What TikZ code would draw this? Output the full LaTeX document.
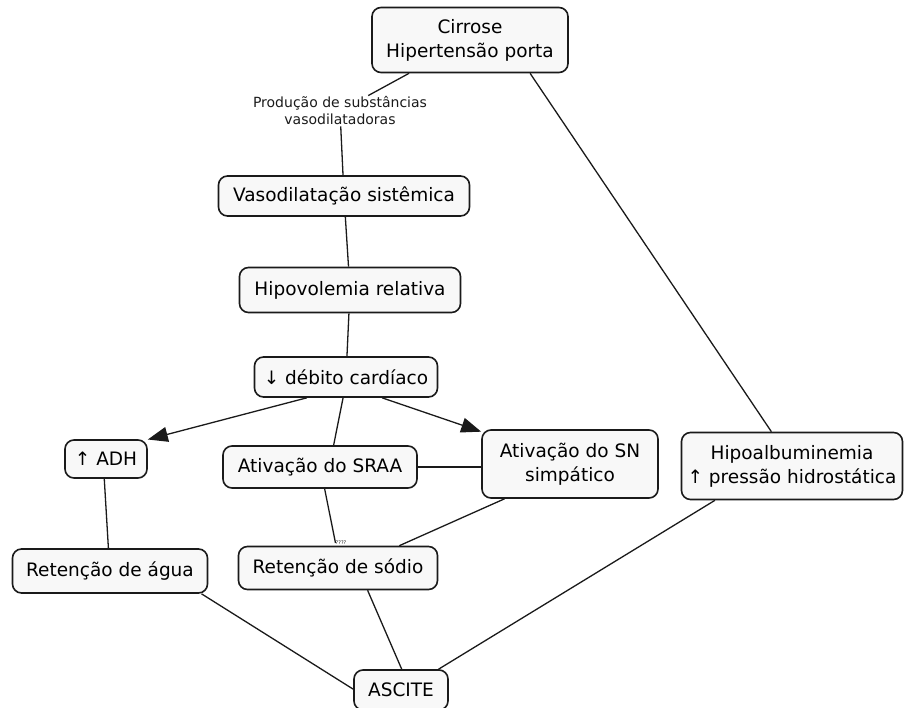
\documentclass[tikz,border=0pt]{standalone}
\usepackage{fontspec}
\setmainfont{DejaVu Sans}
\usetikzlibrary{arrows.meta}
\definecolor{boxfill}{HTML}{F8F8F8}
\definecolor{ink}{HTML}{1A1A1A}
\tikzset{
  box/.style={draw=ink, fill=boxfill, line width=1.6pt, rounded corners=9pt, align=center,
    inner sep=2pt, font=\fontsize{18.5}{24}\selectfont},
  link/.style={draw=ink, line width=1.3pt},
  arr/.style={link, -{Triangle[length=20pt,width=15pt]}},
  lab/.style={text=ink, align=center, inner sep=1pt, font=\fontsize{14}{17}\selectfont},
  labs/.style={text=ink, inner sep=0pt, font=\fontsize{5}{5}\selectfont},
}
\begin{document}
\begin{tikzpicture}[x=1pt,y=-1pt]
  \useasboundingbox (0,0) rectangle (904,708);

  % top of the map
  \node[box, minimum width=196pt, minimum height=65pt] (cirr) at (470,40) {Cirrose\\Hipertensão porta};
  \node[lab] (prod) at (340,111) {Produção de substâncias\\vasodilatadoras};
  \node[box, minimum width=251pt, minimum height=40pt] (vaso) at (344,196) {Vasodilatação sistêmica};
  \node[box, minimum width=221pt, minimum height=45pt] (hipo) at (350,290) {Hipovolemia relativa};
  \node[box, minimum width=183pt, minimum height=40pt] (deb) at (346,377) {↓ débito cardíaco};

  % middle row
  \node[box, minimum width=82pt, minimum height=38pt] (adh) at (106,459) {↑ ADH};
  \node[box, minimum width=194pt, minimum height=42pt] (sraa) at (320,467) {Ativação do SRAA};
  \node[box, minimum width=176pt, minimum height=68pt] (sns) at (570,464) {Ativação do SN\\simpático};
  \node[box, minimum width=221pt, minimum height=67pt] (halb) at (792,466) {Hipoalbuminemia\\↑ pressão hidrostática};

  % bottom
  \node[box, minimum width=195pt, minimum height=44pt] (agua) at (110,571) {Retenção de água};
  \node[box, minimum width=199pt, minimum height=43pt] (sodio) at (338,568) {Retenção de sódio};
  \node[box, minimum width=94pt, minimum height=40pt] (asc) at (401,690) {ASCITE};
  \node[labs] (qq) at (341,543) {????};

  % connectors
  \draw[link] (cirr) -- (prod);
  \draw[link] (prod) -- (vaso);
  \draw[link] (cirr.-29) -- (halb.121);
  \draw[link] (vaso) -- (hipo);
  \draw[link] (hipo) -- (deb);
  \draw[arr] (deb.208) -- (adh.25);
  \draw[arr] (deb.-30) -- (sns.160);
  \draw[link] (deb.-98) -- (sraa.58);
  \draw[link] (sraa.east) -- (sraa.east -| sns.west);
  \draw[link] (sraa.-78) -- (qq.west);
  \draw[link] (sns.208) -- (sodio.20);
  \draw[link] (adh.-95) -- (agua.94);
  \draw[link] (agua.-14) -- (asc.179);
  \draw[link] (sodio.-37) -- (asc.88);
  \draw[link] (halb.204) -- (asc.29);
\end{tikzpicture}
\end{document}
